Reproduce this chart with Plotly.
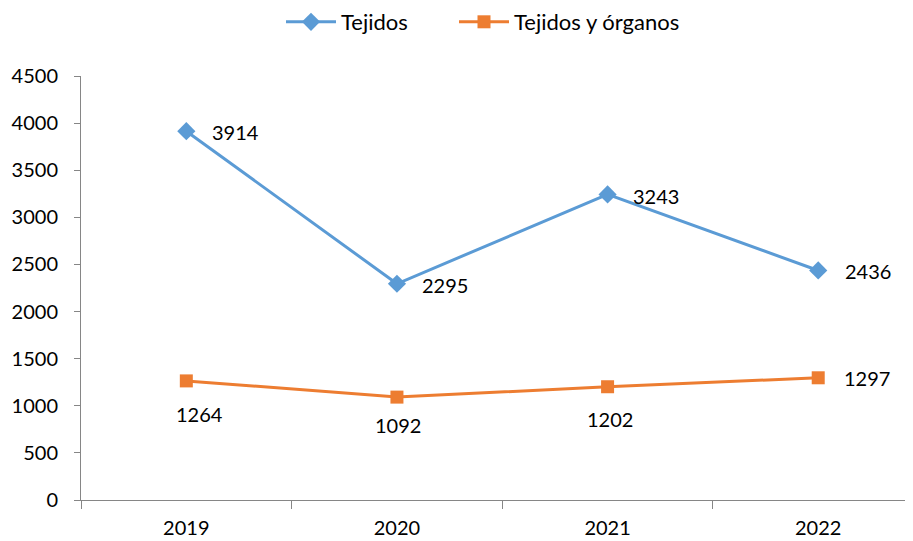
import plotly.graph_objects as go

years = ["2019", "2020", "2021", "2022"]
tejidos = [3914, 2295, 3243, 2436]
tejidos_organos = [1264, 1092, 1202, 1297]
series_names = ["Tejidos", "Tejidos y órganos"]

blue = "#5B9BD5"
orange = "#ED7D31"
font_family = "Lato, 'Noto Sans', sans-serif"
axis_gray = "#868686"

fig = go.Figure()
fig.add_trace(go.Scatter(
    x=years, y=tejidos, name=series_names[0], mode="lines+markers",
    line=dict(color=blue, width=3),
    marker=dict(symbol="diamond", size=14, color=blue),
    legend="legend",
))
fig.add_trace(go.Scatter(
    x=years, y=tejidos_organos, name=series_names[1], mode="lines+markers",
    line=dict(color=orange, width=3),
    marker=dict(symbol="square", size=13, color=orange),
    legend="legend2",
))

# data labels: (xshift, yshift, anchor); x given as category index
blue_pos = [(24, -1, "left"), (23, -1, "left"), (23, -2, "left"), (25, -1, "left")]
orange_pos = [(13, -33, "center"), (1, -28, "center"), (2, -32, "center"), (24, 0, "left")]
for i, (v, (dx, dy, anc)) in enumerate(zip(tejidos, blue_pos)):
    fig.add_annotation(x=i, y=v, text=str(v), showarrow=False, xanchor=anc,
                       yanchor="middle", xshift=dx, yshift=dy,
                       font=dict(family=font_family, size=20, color="#000000"))
for i, (v, (dx, dy, anc)) in enumerate(zip(tejidos_organos, orange_pos)):
    fig.add_annotation(x=i, y=v, text=str(v), showarrow=False, xanchor=anc,
                       yanchor="middle", xshift=dx, yshift=dy,
                       font=dict(family=font_family, size=20, color="#000000"))

W, H = 905, 533
legend_common = dict(orientation="h", xanchor="left", yanchor="middle",
                     xref="container", yref="container", y=1 - 14 / H,
                     itemwidth=50,
                     font=dict(family=font_family, size=22, color="#000000"),
                     bgcolor="rgba(0,0,0,0)")

# the page places the figure 8px in from the top-left corner
fig.update_layout(
    width=W, height=H,
    margin=dict(l=73, r=0, t=68, b=41),
    paper_bgcolor="white", plot_bgcolor="white",
    font=dict(family=font_family, size=20, color="#000000"),
    showlegend=True,
    legend=dict(x=(285 - 8 - 4) / W, **legend_common),
    legend2=dict(x=(460 - 8 - 6) / W, **legend_common),
    xaxis=dict(type="category", range=[-0.5, 3.45], tickson="boundaries",
               ticks="outside", ticklen=8, tickcolor=axis_gray,
               showline=True, linecolor=axis_gray, linewidth=1,
               showgrid=False, zeroline=False, ticklabelstandoff=10,
               automargin=False,
               tickfont=dict(family=font_family, size=20, color="#000000")),
    yaxis=dict(range=[0, 4500], tickvals=list(range(0, 4501, 500)),
               ticks="outside", ticklen=6, tickcolor=axis_gray,
               showline=True, linecolor=axis_gray, linewidth=1,
               showgrid=False, zeroline=False, ticklabelstandoff=12,
               automargin=False,
               tickfont=dict(family=font_family, size=20, color="#000000")),
)

fig.write_html("out.html")
